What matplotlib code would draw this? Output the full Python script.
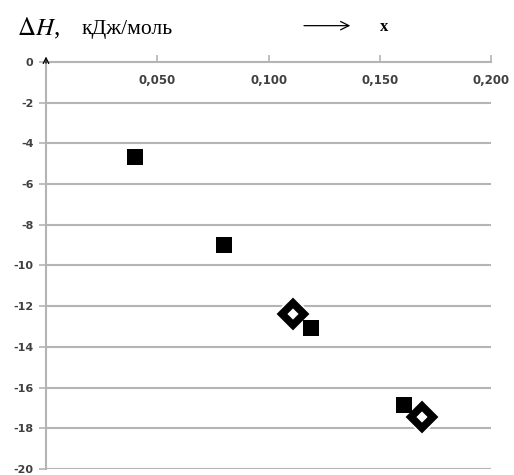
import matplotlib
matplotlib.use('Agg')
import matplotlib.pyplot as plt
from matplotlib.ticker import FixedLocator, FuncFormatter

# Measured enthalpy points (x - mole fraction, dH - kJ/mol)
x_squares = [0.040, 0.080, 0.119, 0.161]
dh_squares = [-4.65, -9.0, -13.05, -16.85]
x_diamonds = [0.111, 0.169]
dh_diamonds = [-12.4, -17.45]

x_ticks = [0.050, 0.100, 0.150, 0.200]
y_ticks = [0, -2, -4, -6, -8, -10, -12, -14, -16, -18, -20]

grid_col = '#b4b4b4'
label_col = '#404040'

fig = plt.figure(figsize=(5.14, 4.75), dpi=100)
ax = fig.add_axes([0.0895, 0.0126, 0.866, 0.857])

ax.set_xlim(0, 0.2)
ax.set_ylim(-20, 0)

# horizontal grid
for v in y_ticks[1:]:
    ax.axhline(v, color=grid_col, lw=1.5, zorder=1)

for s in ['right', 'bottom']:
    ax.spines[s].set_visible(False)
ax.spines['top'].set_color(grid_col)
ax.spines['top'].set_linewidth(1.5)
ax.spines['left'].set_color(grid_col)
ax.spines['left'].set_linewidth(1.5)

ax.xaxis.tick_top()
ax.xaxis.set_major_locator(FixedLocator(x_ticks))
ax.xaxis.set_major_formatter(FuncFormatter(lambda v, p: f'{v:.3f}'.replace('.', ',')))
ax.tick_params(axis='x', direction='out', length=5, width=1.2, color=grid_col,
               pad=-23, labelsize=8.5, labelcolor=label_col)
ax.yaxis.set_major_locator(FixedLocator(y_ticks))
ax.yaxis.set_major_formatter(FuncFormatter(lambda v, p: f'{v:.0f}'))
ax.tick_params(axis='y', direction='out', length=5, width=1.2, color=grid_col,
               pad=4, labelsize=8, labelcolor=label_col)
for t in ax.get_xticklabels() + ax.get_yticklabels():
    t.set_fontweight('bold')

# white halos so grid lines break around markers
ax.plot(x_squares, dh_squares, 's', ms=15, color='white', mew=0, zorder=2)
ax.plot(x_diamonds, dh_diamonds, 'D', ms=19, color='white', mew=0, zorder=2)
ax.plot(x_squares, dh_squares, 's', ms=12, color='black', mew=0, zorder=3)
ax.plot(x_diamonds, dh_diamonds, 'D', ms=11, mfc='white', mec='black', mew=5.5, zorder=4)

# arrow at the top of the vertical axis
ax.annotate('', xy=(0, 1.02), xytext=(0, 0.99), xycoords='axes fraction',
            arrowprops=dict(arrowstyle='->', color='black', lw=0.9), annotation_clip=False)

plt.rcParams['mathtext.fontset'] = 'stix'
fig.text(0.033, 0.925, r'$\Delta H$,', fontsize=18, family='Liberation Serif', va='baseline')
fig.text(0.158, 0.928, 'кДж/моль', fontsize=15.5, family='Liberation Serif', va='baseline')
fig.text(0.748, 0.943, 'x', fontsize=12, family='Liberation Serif', fontweight='bold',
         va='center', ha='center')
fig.add_artist(matplotlib.patches.FancyArrowPatch((0.586, 0.946), (0.687, 0.946),
               transform=fig.transFigure, arrowstyle='->,head_length=6,head_width=3',
               color='black', lw=0.9))

fig.savefig('out.png', dpi=100)
